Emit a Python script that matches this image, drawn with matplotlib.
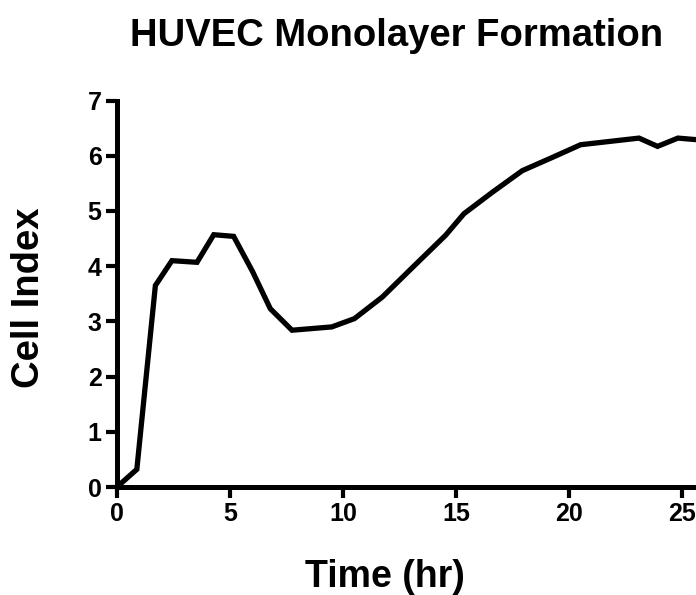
#!/usr/bin/env python3
"""HUVEC monolayer formation: cell index over time."""
import matplotlib
matplotlib.use("Agg")
import matplotlib.pyplot as plt

time_hr = [0.0, 0.88, 1.7, 2.43, 3.54, 4.28, 5.16, 6.0, 6.78, 7.74, 9.5, 10.5,
           11.73, 13.0, 14.53, 15.34, 16.6, 17.92, 19.25, 20.5, 23.08, 23.9,
           24.8, 25.66]
cell_index = [0.0, 0.32, 3.65, 4.1, 4.07, 4.57, 4.54, 3.9, 3.23, 2.84, 2.9, 3.05,
              3.44, 3.95, 4.56, 4.95, 5.34, 5.73, 5.97, 6.2, 6.32, 6.17,
              6.32, 6.29]

x_ticks = [0, 5, 10, 15, 20, 25]
y_ticks = [0, 1, 2, 3, 4, 5, 6, 7]

plt.rcParams["font.family"] = ["Liberation Sans", "DejaVu Sans"]
plt.rcParams["font.weight"] = "bold"

fig = plt.figure(figsize=(6.96, 5.95), dpi=100)
ax = fig.add_axes([0.168, 0.1815, 0.832, 0.6495])

ax.plot(time_hr, cell_index, color="black", lw=3.8, solid_joinstyle="miter")

ax.set_xlim(0, 25.6)
ax.set_ylim(0, 7)
ax.set_xticks(x_ticks)
ax.set_yticks(y_ticks)
for s in ("top", "right"):
    ax.spines[s].set_visible(False)
for s in ("left", "bottom"):
    ax.spines[s].set_linewidth(3.6)
ax.tick_params(width=3.0, length=8, labelsize=18, pad=3)
for lbl in ax.get_xticklabels() + ax.get_yticklabels():
    lbl.set_fontweight("bold")

ax.set_xlabel("Time (hr)", fontsize=27, fontweight="bold")
ax.set_ylabel("Cell Index", fontsize=27.5, fontweight="bold")
# label positions, in axes fractions
ax.xaxis.set_label_coords((385 - 117) / 579, -0.187)
ax.yaxis.set_label_coords(-0.121, 0.49)
fig.suptitle("HUVEC Monolayer Formation", fontsize=27.5, fontweight="bold",
             x=397 / 696, y=0.97)

fig.savefig("out.png", dpi=100)
